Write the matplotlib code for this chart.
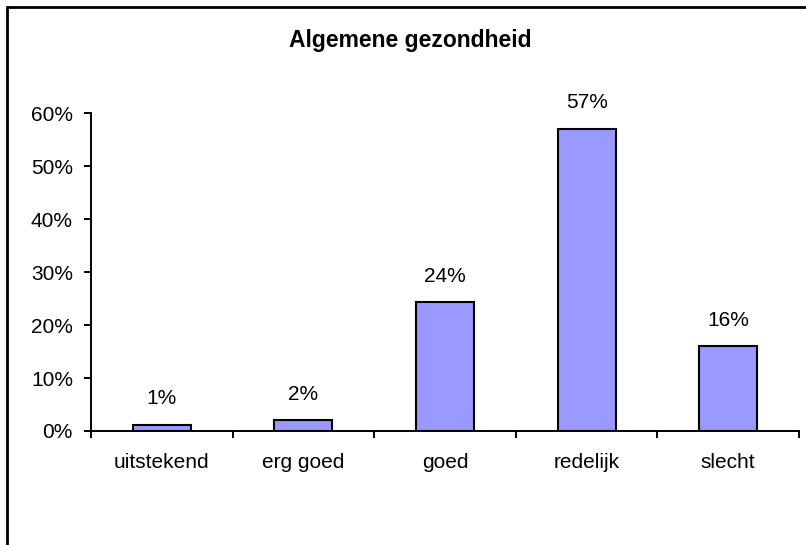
import matplotlib
matplotlib.use("Agg")
import matplotlib.pyplot as plt
from matplotlib.lines import Line2D
import numpy as np

categories = ["uitstekend", "erg goed", "goed", "redelijk", "slecht"]
values = [0.012, 0.020, 0.243, 0.571, 0.160]
labels = ["1%", "2%", "24%", "57%", "16%"]
yticks = [0.0, 0.1, 0.2, 0.3, 0.4, 0.5, 0.6]
yticklabels = ["0%", "10%", "20%", "30%", "40%", "50%", "60%"]
title = "Algemene gezondheid"

plt.rcParams['font.family'] = ['Liberation Sans', 'DejaVu Sans']

W, H = 806, 545
fig = plt.figure(figsize=(W / 100, H / 100), dpi=100)
fig.patch.set_facecolor("white")

# outer frame (top and left visible)
fig.add_artist(Line2D([6 / W, 1.0], [1 - 7 / H, 1 - 7 / H], transform=fig.transFigure,
                      color="black", lw=2.0, solid_capstyle="butt"))
fig.add_artist(Line2D([7 / W, 7 / W], [1 - 6 / H, 0.0], transform=fig.transFigure,
                      color="black", lw=2.0, solid_capstyle="butt"))

left, right = 91 / W, 799 / W
bottom, top = 1 - 431 / H, 1 - 113.3 / H
ax = fig.add_axes([left, bottom, right - left, top - bottom])

x = np.arange(len(categories))
ax.bar(x, values, width=0.41, color="#9999FF", edgecolor="black", linewidth=1.5, zorder=3)

ax.set_xlim(-0.5, len(categories) - 0.5)
ax.set_ylim(0, 0.6)

fs = 15
for xi, v, lab in zip(x, values, labels):
    ax.annotate(lab, (xi, v), xytext=(0, 18.5), textcoords="offset points",
                ha="center", va="center", fontsize=fs, color="black")

ax.set_yticks(yticks)
ax.set_yticklabels(yticklabels, fontsize=fs)
ax.set_xticks(x)
ax.set_xticklabels(categories, fontsize=fs)
ax.set_xticks(np.arange(len(categories) + 1) - 0.5, minor=True)

ax.tick_params(axis="y", which="major", direction="out", length=5, width=1.4, pad=8, colors="black")
ax.tick_params(axis="x", which="major", length=0, pad=16, colors="black")
ax.tick_params(axis="x", which="minor", direction="out", length=5, width=1.4, colors="black")

for s in ["top", "right"]:
    ax.spines[s].set_visible(False)
for s in ["left", "bottom"]:
    ax.spines[s].set_linewidth(1.4)
    ax.spines[s].set_color("black")

ax.patch.set_alpha(0)

fig.text(410 / W, 1 - 40 / H, title, ha="center", va="center",
         fontsize=16.5, fontweight="bold", color="black")

fig.savefig("out.png", dpi=100)
